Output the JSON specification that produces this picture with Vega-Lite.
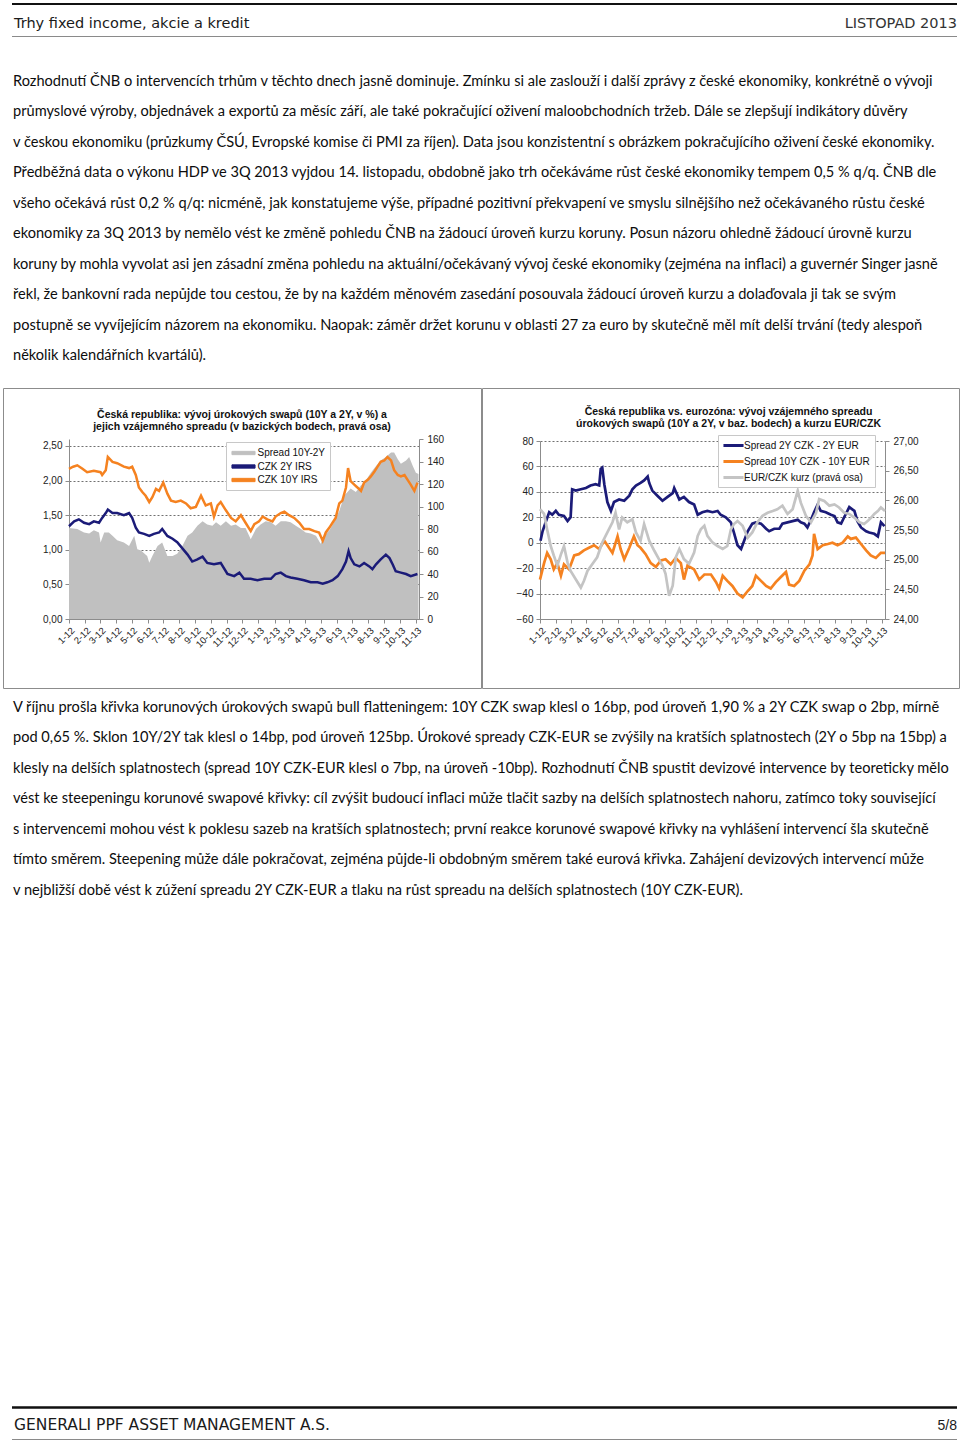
{
"$schema":"https://vega.github.io/schema/vega-lite/v6.json",
"padding":{"left":2,"top":0,"right":0,"bottom":0},
"background":"#ffffff",
"spacing":0,
"bounds":"full",
"config":{"view":{"stroke":null},"font":"Liberation Sans"},
"resolve":{"scale":{"x":"independent","y":"independent","color":"independent"},"legend":{"color":"independent"}},
"datasets":{
"irs10":[{"date":"2012-01-01","value":2.17},{"date":"2012-01-09","value":2.2},{"date":"2012-01-17","value":2.22},{"date":"2012-01-27","value":2.17},{"date":"2012-02-05","value":2.12},{"date":"2012-02-18","value":2.14},{"date":"2012-03-02","value":2.12},{"date":"2012-03-05","value":2.08},{"date":"2012-03-12","value":2.15},{"date":"2012-03-16","value":2.34},{"date":"2012-03-25","value":2.27},{"date":"2012-04-03","value":2.25},{"date":"2012-04-16","value":2.2},{"date":"2012-04-26","value":2.18},{"date":"2012-05-02","value":2.2},{"date":"2012-05-09","value":2.08},{"date":"2012-05-15","value":1.9},{"date":"2012-05-22","value":1.83},{"date":"2012-05-28","value":1.78},{"date":"2012-06-04","value":1.69},{"date":"2012-06-10","value":1.76},{"date":"2012-06-17","value":1.88},{"date":"2012-06-23","value":1.85},{"date":"2012-07-01","value":1.97},{"date":"2012-07-09","value":1.81},{"date":"2012-07-16","value":1.71},{"date":"2012-07-25","value":1.69},{"date":"2012-08-04","value":1.71},{"date":"2012-08-14","value":1.67},{"date":"2012-08-23","value":1.6},{"date":"2012-09-02","value":1.62},{"date":"2012-09-12","value":1.78},{"date":"2012-09-21","value":1.64},{"date":"2012-10-01","value":1.67},{"date":"2012-10-07","value":1.48},{"date":"2012-10-14","value":1.64},{"date":"2012-10-20","value":1.69},{"date":"2012-10-30","value":1.57},{"date":"2012-11-09","value":1.46},{"date":"2012-11-18","value":1.41},{"date":"2012-11-28","value":1.5},{"date":"2012-12-07","value":1.39},{"date":"2012-12-17","value":1.27},{"date":"2012-12-24","value":1.37},{"date":"2013-01-02","value":1.41},{"date":"2013-01-09","value":1.48},{"date":"2013-01-18","value":1.44},{"date":"2013-01-28","value":1.41},{"date":"2013-02-03","value":1.48},{"date":"2013-02-13","value":1.53},{"date":"2013-02-20","value":1.55},{"date":"2013-03-01","value":1.5},{"date":"2013-03-11","value":1.46},{"date":"2013-03-21","value":1.39},{"date":"2013-03-30","value":1.3},{"date":"2013-04-09","value":1.3},{"date":"2013-04-19","value":1.27},{"date":"2013-04-28","value":1.25},{"date":"2013-05-05","value":1.13},{"date":"2013-05-11","value":1.25},{"date":"2013-05-18","value":1.32},{"date":"2013-05-24","value":1.39},{"date":"2013-05-30","value":1.46},{"date":"2013-06-06","value":1.67},{"date":"2013-06-12","value":1.71},{"date":"2013-06-19","value":1.9},{"date":"2013-06-23","value":2.18},{"date":"2013-06-28","value":1.99},{"date":"2013-07-05","value":1.94},{"date":"2013-07-11","value":1.9},{"date":"2013-07-18","value":1.85},{"date":"2013-07-24","value":1.97},{"date":"2013-07-31","value":2.01},{"date":"2013-08-06","value":2.06},{"date":"2013-08-13","value":2.13},{"date":"2013-08-19","value":2.2},{"date":"2013-08-25","value":2.27},{"date":"2013-09-01","value":2.29},{"date":"2013-09-07","value":2.34},{"date":"2013-09-14","value":2.29},{"date":"2013-09-20","value":2.15},{"date":"2013-09-27","value":2.08},{"date":"2013-10-03","value":2.06},{"date":"2013-10-10","value":2.08},{"date":"2013-10-16","value":2.01},{"date":"2013-10-22","value":1.94},{"date":"2013-10-29","value":1.85},{"date":"2013-11-04","value":1.97}],
"irs2":[{"date":"2012-01-01","value":1.34},{"date":"2012-01-11","value":1.41},{"date":"2012-01-20","value":1.44},{"date":"2012-01-30","value":1.39},{"date":"2012-02-09","value":1.37},{"date":"2012-02-18","value":1.41},{"date":"2012-02-28","value":1.39},{"date":"2012-03-05","value":1.46},{"date":"2012-03-12","value":1.53},{"date":"2012-03-16","value":1.58},{"date":"2012-03-25","value":1.53},{"date":"2012-04-03","value":1.53},{"date":"2012-04-16","value":1.5},{"date":"2012-04-26","value":1.53},{"date":"2012-05-02","value":1.46},{"date":"2012-05-09","value":1.32},{"date":"2012-05-15","value":1.25},{"date":"2012-05-25","value":1.23},{"date":"2012-06-04","value":1.2},{"date":"2012-06-13","value":1.23},{"date":"2012-06-23","value":1.25},{"date":"2012-06-29","value":1.3},{"date":"2012-07-09","value":1.2},{"date":"2012-07-19","value":1.16},{"date":"2012-07-28","value":1.11},{"date":"2012-08-07","value":1.02},{"date":"2012-08-17","value":0.93},{"date":"2012-08-26","value":0.83},{"date":"2012-09-05","value":0.86},{"date":"2012-09-15","value":0.9},{"date":"2012-09-24","value":0.81},{"date":"2012-10-07","value":0.79},{"date":"2012-10-20","value":0.81},{"date":"2012-11-02","value":0.65},{"date":"2012-11-15","value":0.62},{"date":"2012-11-25","value":0.67},{"date":"2012-12-04","value":0.58},{"date":"2012-12-17","value":0.58},{"date":"2012-12-30","value":0.56},{"date":"2013-01-12","value":0.58},{"date":"2013-01-25","value":0.58},{"date":"2013-02-03","value":0.65},{"date":"2013-02-13","value":0.67},{"date":"2013-02-23","value":0.62},{"date":"2013-03-04","value":0.6},{"date":"2013-03-17","value":0.58},{"date":"2013-03-30","value":0.56},{"date":"2013-04-12","value":0.53},{"date":"2013-04-25","value":0.53},{"date":"2013-05-05","value":0.51},{"date":"2013-05-14","value":0.53},{"date":"2013-05-24","value":0.56},{"date":"2013-06-03","value":0.62},{"date":"2013-06-12","value":0.72},{"date":"2013-06-19","value":0.83},{"date":"2013-06-24","value":0.98},{"date":"2013-06-28","value":0.88},{"date":"2013-07-05","value":0.79},{"date":"2013-07-15","value":0.76},{"date":"2013-07-24","value":0.81},{"date":"2013-08-03","value":0.76},{"date":"2013-08-09","value":0.72},{"date":"2013-08-16","value":0.79},{"date":"2013-08-25","value":0.86},{"date":"2013-09-04","value":0.93},{"date":"2013-09-11","value":0.88},{"date":"2013-09-17","value":0.79},{"date":"2013-09-23","value":0.69},{"date":"2013-10-03","value":0.67},{"date":"2013-10-13","value":0.65},{"date":"2013-10-22","value":0.62},{"date":"2013-11-04","value":0.65}],
"spread":[{"date":"2012-01-01","value":81},{"date":"2012-01-17","value":80},{"date":"2012-01-30","value":77},{"date":"2012-02-09","value":76},{"date":"2012-02-18","value":79},{"date":"2012-02-28","value":77},{"date":"2012-03-02","value":68},{"date":"2012-03-09","value":77},{"date":"2012-03-18","value":77},{"date":"2012-03-25","value":74},{"date":"2012-04-03","value":70},{"date":"2012-04-16","value":68},{"date":"2012-04-26","value":65},{"date":"2012-05-06","value":74},{"date":"2012-05-12","value":62},{"date":"2012-05-19","value":61},{"date":"2012-05-31","value":56},{"date":"2012-06-04","value":50},{"date":"2012-06-10","value":56},{"date":"2012-06-20","value":65},{"date":"2012-06-29","value":68},{"date":"2012-07-09","value":56},{"date":"2012-07-19","value":56},{"date":"2012-07-28","value":58},{"date":"2012-08-07","value":65},{"date":"2012-08-17","value":74},{"date":"2012-08-26","value":77},{"date":"2012-09-05","value":83},{"date":"2012-09-15","value":87},{"date":"2012-09-24","value":84},{"date":"2012-10-04","value":83},{"date":"2012-10-11","value":86},{"date":"2012-10-20","value":83},{"date":"2012-10-30","value":87},{"date":"2012-11-09","value":83},{"date":"2012-11-18","value":84},{"date":"2012-11-28","value":81},{"date":"2012-12-07","value":81},{"date":"2012-12-17","value":71},{"date":"2012-12-27","value":80},{"date":"2013-01-05","value":84},{"date":"2013-01-15","value":87},{"date":"2013-01-25","value":86},{"date":"2013-02-03","value":83},{"date":"2013-02-13","value":87},{"date":"2013-02-23","value":87},{"date":"2013-03-04","value":86},{"date":"2013-03-14","value":83},{"date":"2013-03-24","value":80},{"date":"2013-04-02","value":77},{"date":"2013-04-12","value":76},{"date":"2013-04-22","value":74},{"date":"2013-05-01","value":67},{"date":"2013-05-08","value":74},{"date":"2013-05-18","value":79},{"date":"2013-05-27","value":86},{"date":"2013-06-06","value":96},{"date":"2013-06-16","value":110},{"date":"2013-06-22","value":113},{"date":"2013-06-28","value":116},{"date":"2013-07-08","value":113},{"date":"2013-07-18","value":119},{"date":"2013-07-27","value":123},{"date":"2013-08-06","value":130},{"date":"2013-08-16","value":136},{"date":"2013-08-25","value":141},{"date":"2013-09-04","value":144},{"date":"2013-09-14","value":148},{"date":"2013-09-20","value":148},{"date":"2013-09-27","value":142},{"date":"2013-10-03","value":138},{"date":"2013-10-13","value":141},{"date":"2013-10-19","value":144},{"date":"2013-10-26","value":136},{"date":"2013-11-01","value":130},{"date":"2013-11-06","value":129}],
"s2":[{"date":"2012-01-02","value":1.5},{"date":"2012-01-06","value":9},{"date":"2012-01-12","value":16},{"date":"2012-01-19","value":24},{"date":"2012-01-25","value":22},{"date":"2012-02-01","value":25},{"date":"2012-02-07","value":22},{"date":"2012-02-17","value":21},{"date":"2012-02-24","value":17},{"date":"2012-03-01","value":20},{"date":"2012-03-04","value":42},{"date":"2012-03-11","value":41},{"date":"2012-03-21","value":42},{"date":"2012-03-31","value":43},{"date":"2012-04-09","value":45},{"date":"2012-04-19","value":46},{"date":"2012-04-26","value":45},{"date":"2012-04-29","value":58},{"date":"2012-05-02","value":59},{"date":"2012-05-06","value":46},{"date":"2012-05-12","value":32},{"date":"2012-05-19","value":25},{"date":"2012-05-25","value":32},{"date":"2012-06-04","value":34},{"date":"2012-06-14","value":33},{"date":"2012-06-24","value":37},{"date":"2012-06-30","value":42},{"date":"2012-07-07","value":45},{"date":"2012-07-16","value":47},{"date":"2012-07-23","value":49},{"date":"2012-07-30","value":52},{"date":"2012-08-02","value":47},{"date":"2012-08-08","value":41},{"date":"2012-08-18","value":37},{"date":"2012-08-28","value":33},{"date":"2012-09-07","value":36},{"date":"2012-09-17","value":39},{"date":"2012-09-20","value":43},{"date":"2012-09-30","value":34},{"date":"2012-10-09","value":36},{"date":"2012-10-19","value":32},{"date":"2012-10-29","value":30},{"date":"2012-11-05","value":22},{"date":"2012-11-14","value":24},{"date":"2012-11-24","value":25},{"date":"2012-12-04","value":24},{"date":"2012-12-14","value":25},{"date":"2012-12-20","value":22},{"date":"2012-12-30","value":20},{"date":"2013-01-09","value":16},{"date":"2013-01-15","value":8},{"date":"2013-01-22","value":-2},{"date":"2013-01-29","value":-5},{"date":"2013-02-04","value":1.5},{"date":"2013-02-11","value":9},{"date":"2013-02-20","value":15},{"date":"2013-02-27","value":16},{"date":"2013-03-09","value":15},{"date":"2013-03-19","value":11},{"date":"2013-03-25","value":9},{"date":"2013-04-04","value":11},{"date":"2013-04-14","value":11},{"date":"2013-04-20","value":15},{"date":"2013-04-30","value":16},{"date":"2013-05-10","value":17},{"date":"2013-05-20","value":18},{"date":"2013-05-26","value":16},{"date":"2013-06-02","value":15},{"date":"2013-06-08","value":12},{"date":"2013-06-15","value":18},{"date":"2013-06-21","value":24},{"date":"2013-06-28","value":30},{"date":"2013-07-04","value":25},{"date":"2013-07-14","value":24},{"date":"2013-07-24","value":22},{"date":"2013-07-31","value":21},{"date":"2013-08-06","value":16},{"date":"2013-08-13","value":15},{"date":"2013-08-19","value":20},{"date":"2013-08-29","value":28},{"date":"2013-09-08","value":25},{"date":"2013-09-14","value":17},{"date":"2013-09-21","value":12},{"date":"2013-10-01","value":9},{"date":"2013-10-07","value":8},{"date":"2013-10-17","value":7},{"date":"2013-10-24","value":5},{"date":"2013-10-30","value":16},{"date":"2013-11-06","value":13}],
"s10":[{"date":"2012-01-01","value":-29},{"date":"2012-01-09","value":-16},{"date":"2012-01-15","value":-8},{"date":"2012-01-22","value":-13},{"date":"2012-01-28","value":-21},{"date":"2012-02-04","value":-16},{"date":"2012-02-11","value":-26},{"date":"2012-02-17","value":-17},{"date":"2012-02-27","value":-21},{"date":"2012-03-08","value":-10},{"date":"2012-03-17","value":-9},{"date":"2012-03-27","value":-6},{"date":"2012-04-06","value":-4},{"date":"2012-04-16","value":-2},{"date":"2012-04-26","value":-5},{"date":"2012-05-06","value":1.5},{"date":"2012-05-12","value":-2},{"date":"2012-05-22","value":-8},{"date":"2012-06-01","value":5},{"date":"2012-06-07","value":-5},{"date":"2012-06-14","value":-13},{"date":"2012-06-24","value":-4},{"date":"2012-07-03","value":5},{"date":"2012-07-10","value":-2},{"date":"2012-07-16","value":-4},{"date":"2012-07-26","value":-9},{"date":"2012-08-05","value":-16},{"date":"2012-08-15","value":-19},{"date":"2012-08-25","value":-14},{"date":"2012-09-03","value":-13},{"date":"2012-09-13","value":-17},{"date":"2012-09-23","value":-12},{"date":"2012-10-03","value":-16},{"date":"2012-10-09","value":-29},{"date":"2012-10-16","value":-18},{"date":"2012-10-29","value":-21},{"date":"2012-11-08","value":-29},{"date":"2012-11-18","value":-25},{"date":"2012-12-01","value":-25},{"date":"2012-12-11","value":-31},{"date":"2012-12-17","value":-36},{"date":"2012-12-24","value":-26},{"date":"2013-01-02","value":-30},{"date":"2013-01-12","value":-34},{"date":"2013-01-22","value":-40},{"date":"2013-02-01","value":-43},{"date":"2013-02-11","value":-38},{"date":"2013-02-20","value":-34},{"date":"2013-02-27","value":-26},{"date":"2013-03-09","value":-30},{"date":"2013-03-19","value":-34},{"date":"2013-03-28","value":-36},{"date":"2013-04-07","value":-31},{"date":"2013-04-17","value":-27},{"date":"2013-04-27","value":-23},{"date":"2013-05-03","value":-33},{"date":"2013-05-13","value":-34},{"date":"2013-05-23","value":-30},{"date":"2013-06-02","value":-22},{"date":"2013-06-12","value":-17},{"date":"2013-06-18","value":-10},{"date":"2013-06-21","value":7},{"date":"2013-06-28","value":-5},{"date":"2013-07-08","value":-2},{"date":"2013-07-18","value":-1},{"date":"2013-07-27","value":0},{"date":"2013-08-06","value":-2},{"date":"2013-08-16","value":0},{"date":"2013-08-26","value":5},{"date":"2013-09-01","value":3},{"date":"2013-09-11","value":4},{"date":"2013-09-21","value":-1},{"date":"2013-10-01","value":-6},{"date":"2013-10-10","value":-10},{"date":"2013-10-20","value":-12},{"date":"2013-10-30","value":-8},{"date":"2013-11-07","value":-8}],
"fx":[{"date":"2012-01-01","value":25.85},{"date":"2012-01-09","value":25.77},{"date":"2012-01-15","value":25.51},{"date":"2012-01-22","value":25.23},{"date":"2012-01-28","value":25.07},{"date":"2012-02-04","value":24.9},{"date":"2012-02-11","value":25.09},{"date":"2012-02-17","value":25.23},{"date":"2012-02-24","value":24.95},{"date":"2012-03-01","value":24.81},{"date":"2012-03-11","value":24.67},{"date":"2012-03-21","value":24.53},{"date":"2012-03-27","value":24.64},{"date":"2012-04-03","value":24.81},{"date":"2012-04-13","value":24.93},{"date":"2012-04-22","value":25.04},{"date":"2012-05-02","value":25.29},{"date":"2012-05-12","value":25.46},{"date":"2012-05-22","value":25.63},{"date":"2012-05-28","value":25.79},{"date":"2012-06-04","value":25.51},{"date":"2012-06-10","value":25.71},{"date":"2012-06-20","value":25.63},{"date":"2012-06-30","value":25.68},{"date":"2012-07-07","value":25.46},{"date":"2012-07-16","value":25.32},{"date":"2012-07-23","value":25.6},{"date":"2012-08-02","value":25.32},{"date":"2012-08-12","value":25.15},{"date":"2012-08-21","value":25.01},{"date":"2012-08-28","value":24.9},{"date":"2012-09-03","value":24.76},{"date":"2012-09-10","value":24.39},{"date":"2012-09-17","value":24.56},{"date":"2012-09-23","value":25.04},{"date":"2012-09-30","value":25.18},{"date":"2012-10-09","value":25.01},{"date":"2012-10-19","value":24.93},{"date":"2012-10-29","value":25.12},{"date":"2012-11-05","value":25.4},{"date":"2012-11-11","value":25.51},{"date":"2012-11-18","value":25.57},{"date":"2012-11-24","value":25.4},{"date":"2012-12-04","value":25.29},{"date":"2012-12-14","value":25.23},{"date":"2012-12-24","value":25.18},{"date":"2013-01-02","value":25.23},{"date":"2013-01-09","value":25.51},{"date":"2013-01-15","value":25.6},{"date":"2013-01-22","value":25.65},{"date":"2013-02-01","value":25.57},{"date":"2013-02-11","value":25.37},{"date":"2013-02-20","value":25.46},{"date":"2013-03-02","value":25.63},{"date":"2013-03-12","value":25.74},{"date":"2013-03-22","value":25.79},{"date":"2013-04-01","value":25.82},{"date":"2013-04-10","value":25.85},{"date":"2013-04-20","value":25.91},{"date":"2013-04-30","value":25.77},{"date":"2013-05-10","value":25.85},{"date":"2013-05-20","value":26.16},{"date":"2013-05-26","value":25.96},{"date":"2013-06-05","value":25.74},{"date":"2013-06-15","value":25.63},{"date":"2013-06-25","value":25.79},{"date":"2013-07-01","value":26.02},{"date":"2013-07-11","value":25.99},{"date":"2013-07-21","value":25.91},{"date":"2013-07-31","value":25.93},{"date":"2013-08-09","value":25.88},{"date":"2013-08-19","value":25.79},{"date":"2013-08-29","value":25.77},{"date":"2013-09-08","value":25.71},{"date":"2013-09-18","value":25.63},{"date":"2013-09-27","value":25.6},{"date":"2013-10-04","value":25.65},{"date":"2013-10-11","value":25.71},{"date":"2013-10-17","value":25.77},{"date":"2013-10-24","value":25.82},{"date":"2013-10-30","value":25.88},{"date":"2013-11-07","value":25.82}]
},
"vconcat":[
{
"width":958,"height":40,
"data":{"values":[{"text":"Trhy fixed income, akcie a kredit","side":"left"},{"text":"LISTOPAD 2013","side":"right"}]},
"encoding":{
"x":{"datum":0,"type":"quantitative","scale":{"domain":[0,1],"range":[9,954]},"axis":null},
"y":{"datum":27.5,"type":"quantitative","scale":{"domain":[0,40],"range":[0,40]},"axis":null}
},
"layer":[
{"mark":{"type":"rule","color":"#111111","strokeWidth":2.2},"encoding":{"x2":{"datum":1},"y":{"datum":4,"type":"quantitative"}}},
{"mark":{"type":"rule","color":"#8a8a8a","strokeWidth":1.2},"encoding":{"x2":{"datum":1},"y":{"datum":36.5,"type":"quantitative"}}},
{"transform":[{"filter":"datum.side === 'left'"}],"mark":{"type":"text","align":"left","baseline":"alphabetic","font":"DejaVu Sans","fontSize":14.5,"color":"#1a1a1a","dx":2},"encoding":{"text":{"field":"text"}}},
{"transform":[{"filter":"datum.side === 'right'"}],"mark":{"type":"text","align":"right","baseline":"alphabetic","font":"DejaVu Sans","fontSize":14.5,"color":"#333333"},"encoding":{"x":{"datum":1,"type":"quantitative"},"text":{"field":"text"}}}
]
},
{
"width":958,"height":347,
"data":{"values":[
{"line":1,"text":"Rozhodnutí ČNB o intervencích trhům v těchto dnech jasně dominuje. Zmínku si ale zaslouží i další zprávy z české ekonomiky, konkrétně o vývoji"},
{"line":2,"text":"průmyslové výroby, objednávek a exportů za měsíc září, ale také pokračující oživení maloobchodních tržeb. Dále se zlepšují indikátory důvěry"},
{"line":3,"text":"v českou ekonomiku (průzkumy ČSÚ, Evropské komise či PMI za říjen). Data jsou konzistentní s obrázkem pokračujícího oživení české ekonomiky."},
{"line":4,"text":"Předběžná data o výkonu HDP ve 3Q 2013 vyjdou 14. listopadu, obdobně jako trh očekáváme růst české ekonomiky tempem 0,5 % q/q. ČNB dle"},
{"line":5,"text":"všeho očekává růst 0,2 % q/q: nicméně, jak konstatujeme výše, případné pozitivní překvapení ve smyslu silnějšího než očekávaného růstu české"},
{"line":6,"text":"ekonomiky za 3Q 2013 by nemělo vést ke změně pohledu ČNB na žádoucí úroveň kurzu koruny. Posun názoru ohledně žádoucí úrovně kurzu"},
{"line":7,"text":"koruny by mohla vyvolat asi jen zásadní změna pohledu na aktuální/očekávaný vývoj české ekonomiky (zejména na inflaci) a guvernér Singer jasně"},
{"line":8,"text":"řekl, že bankovní rada nepůjde tou cestou, že by na každém měnovém zasedání posouvala žádoucí úroveň kurzu a dolaďovala ji tak se svým"},
{"line":9,"text":"postupně se vyvíjejícím názorem na ekonomiku. Naopak: záměr držet korunu v oblasti 27 za euro by skutečně měl mít delší trvání (tedy alespoň"},
{"line":10,"text":"několik kalendářních kvartálů)."}
]},
"mark":{"type":"text","align":"left","baseline":"alphabetic","font":"Lato","fontSize":14.6,"color":"#0d0d0d"},
"encoding":{
"x":{"datum":0,"type":"quantitative","scale":{"domain":[0,1],"range":[10,955]},"axis":null},
"y":{"field":"line","type":"quantitative","scale":{"domain":[1,10],"range":[46,320]},"axis":null},
"text":{"field":"text"}
}
},
{
"hconcat":[
{
"width":478,"height":300,
"view":{"stroke":"#8c8c8c","strokeWidth":1,"fill":"#ffffff"},
"title":{"text":["Česká republika: vývoj úrokových swapů (10Y a 2Y, v %) a","jejich  vzájemného spreadu (v bazických bodech, pravá osa)"],"anchor":"middle","frame":"group","offset":-44,"fontSize":10.5,"fontWeight":"bold","font":"Liberation Sans","color":"#111111","lineHeight":12},
"encoding":{
"x":{"field":"date","type":"temporal","scale":{"domain":[{"year":2012,"month":1,"date":1},{"year":2013,"month":11,"date":7}],"range":[66,416]},
"axis":{"orient":"bottom","offset":-69,"format":"%-m-%y","tickCount":{"interval":"month","step":1},"labelAngle":-45,"labelFontSize":9.5,"labelFont":"Liberation Sans","labelColor":"#222222","domainColor":"#8c8c8c","tickColor":"#8c8c8c","tickSize":4,"grid":false,"title":null,"labelOverlap":false,"labelFlush":false,"labelBound":false,"labelPadding":2}}
},
"layer":[
{"data":{"name":"spread"},"mark":{"type":"area","opacity":1},
"encoding":{
"y":{"field":"value","type":"quantitative","scale":{"domain":[0,160],"range":[231,51]},"axis":{"orient":"right","offset":-62,"values":[0,20,40,60,80,100,120,140,160],"format":"d","grid":false,"title":null,"labelFontSize":10,"labelFont":"Liberation Sans","labelColor":"#222222","domainColor":"#8c8c8c","tickColor":"#8c8c8c","tickSize":4,"labelPadding":4,"labelOverlap":false,"labelBound":false,"labelFlush":false}},
"color":{"datum":"Spread 10Y-2Y","type":"nominal","scale":{"domain":["Spread 10Y-2Y","CZK 2Y IRS","CZK 10Y IRS"],"range":["#c0c0c0","#1b1b78","#f58220"]},
"legend":{"orient":"none","legendX":223,"legendY":54,"title":null,"symbolType":"M-2.1,-0.3L2.1,-0.3L2.1,0.3L-2.1,0.3Z","symbolSize":121,"symbolStrokeWidth":1,"symbolOffset":6.5,"labelOffset":8,"labelFont":"Liberation Sans","labelFontSize":10,"labelColor":"#111111","padding":5,"strokeColor":"#c8c8c8","fillColor":"#ffffff","rowPadding":2.5}}
}},
{"layer":[
{"data":{"name":"irs2"},"mark":{"type":"line","strokeWidth":2.5},
"encoding":{
"y":{"field":"value","type":"quantitative","scale":{"domain":[0,2.5],"range":[231,51]},"axis":{"orient":"left","offset":-66,"values":[0,0.5,1,1.5,2,2.5],"labelExpr":"replace(format(datum.value, '.2f'), '.', ',')","grid":true,"gridColor":"#707070","gridDash":[2,2],"gridWidth":1,"zindex":0,"title":null,"labelFontSize":10,"labelFont":"Liberation Sans","labelColor":"#222222","domainColor":"#8c8c8c","tickColor":"#8c8c8c","tickSize":4,"labelPadding":3,"labelOverlap":false,"labelBound":false,"labelFlush":false}},
"color":{"datum":"CZK 2Y IRS","type":"nominal"}}},
{"data":{"name":"irs10"},"mark":{"type":"line","strokeWidth":2.5},
"encoding":{
"y":{"field":"value","type":"quantitative"},
"color":{"datum":"CZK 10Y IRS","type":"nominal"}}}
]}
],
"resolve":{"scale":{"y":"independent"},"axis":{"y":"independent"}}
},
{
"width":477,"height":300,
"view":{"stroke":"#8c8c8c","strokeWidth":1,"fill":"#ffffff"},
"title":{"text":["Česká republika vs. eurozóna: vývoj vzájemného spreadu","úrokových swapů (10Y a 2Y, v baz. bodech) a kurzu EUR/CZK"],"anchor":"middle","frame":"group","offset":-41,"dx":8,"fontSize":10.5,"fontWeight":"bold","font":"Liberation Sans","color":"#111111","lineHeight":12},
"encoding":{
"x":{"field":"date","type":"temporal","scale":{"domain":[{"year":2012,"month":1,"date":1},{"year":2013,"month":11,"date":7}],"range":[58,403]},
"axis":{"orient":"bottom","offset":-69,"format":"%-m-%y","tickCount":{"interval":"month","step":1},"labelAngle":-45,"labelFontSize":9.5,"labelFont":"Liberation Sans","labelColor":"#222222","domainColor":"#8c8c8c","tickColor":"#8c8c8c","tickSize":4,"grid":false,"title":null,"labelOverlap":false,"labelFlush":false,"labelBound":false,"labelPadding":2}}
},
"layer":[
{"layer":[
{"data":{"name":"s2"},"mark":{"type":"line","strokeWidth":2.7},
"encoding":{
"y":{"field":"value","type":"quantitative","scale":{"domain":[-60,80],"range":[231,53]},"axis":{"orient":"left","offset":-58,"values":[-60,-40,-20,0,20,40,60,80],"format":"d","grid":true,"gridColor":"#707070","gridDash":[2,2],"gridWidth":1,"zindex":0,"title":null,"labelFontSize":10,"labelFont":"Liberation Sans","labelColor":"#222222","domainColor":"#8c8c8c","tickColor":"#8c8c8c","tickSize":4,"labelPadding":3,"labelOverlap":false,"labelBound":false,"labelFlush":false}},
"color":{"datum":"Spread 2Y CZK - 2Y EUR","type":"nominal","scale":{"domain":["Spread 2Y CZK - 2Y EUR","Spread 10Y CZK - 10Y EUR","EUR/CZK kurz (pravá osa)"],"range":["#1b1b78","#f58220","#c4c4c4"]},
"legend":{"orient":"none","legendX":236,"legendY":47,"title":null,"symbolType":"M-1.75,-0.04L1.75,-0.04L1.75,0.04L-1.75,0.04Z","symbolSize":100,"symbolStrokeWidth":2.6,"symbolOffset":5,"labelOffset":4,"labelFont":"Liberation Sans","labelFontSize":10,"labelColor":"#111111","padding":4,"strokeColor":"#c8c8c8","fillColor":"#ffffff","rowPadding":4}}}},
{"data":{"name":"s10"},"mark":{"type":"line","strokeWidth":2.7},
"encoding":{
"y":{"field":"value","type":"quantitative"},
"color":{"datum":"Spread 10Y CZK - 10Y EUR","type":"nominal"}}}
]},
{"data":{"name":"fx"},"mark":{"type":"line","strokeWidth":2.7},
"encoding":{
"y":{"field":"value","type":"quantitative","scale":{"domain":[24,27],"range":[231,53]},"axis":{"orient":"right","offset":-74,"values":[24,24.5,25,25.5,26,26.5,27],"labelExpr":"replace(format(datum.value, '.2f'), '.', ',')","grid":false,"title":null,"labelFontSize":10,"labelFont":"Liberation Sans","labelColor":"#222222","domainColor":"#8c8c8c","tickColor":"#8c8c8c","tickSize":4,"labelPadding":4,"labelOverlap":false,"labelBound":false,"labelFlush":false}},
"color":{"datum":"EUR/CZK kurz (pravá osa)","type":"nominal"}}}
],
"resolve":{"scale":{"y":"independent"},"axis":{"y":"independent"}}
}
],
"spacing":1,
"bounds":"flush",
"resolve":{"scale":{"x":"independent","y":"independent","color":"independent"},"legend":{"color":"independent"}}
},
{
"width":958,"height":713,
"data":{"values":[
{"line":1,"text":"V říjnu prošla křivka korunových úrokových swapů bull flatteningem: 10Y CZK swap klesl o 16bp, pod úroveň 1,90 % a 2Y CZK swap o 2bp, mírně"},
{"line":2,"text":"pod 0,65 %. Sklon 10Y/2Y tak klesl o 14bp, pod úroveň 125bp. Úrokové spready CZK-EUR se zvýšily na kratších splatnostech (2Y o 5bp na 15bp) a"},
{"line":3,"text":"klesly na delších splatnostech (spread 10Y CZK-EUR klesl o 7bp, na úroveň -10bp). Rozhodnutí ČNB spustit devizové intervence by teoreticky mělo"},
{"line":4,"text":"vést ke steepeningu korunové swapové křivky: cíl zvýšit budoucí inflaci může tlačit sazby na delších splatnostech nahoru, zatímco toky související"},
{"line":5,"text":"s intervencemi mohou vést k poklesu sazeb na kratších splatnostech; první reakce korunové swapové křivky na vyhlášení intervencí šla skutečně"},
{"line":6,"text":"tímto směrem. Steepening může dále pokračovat, zejména půjde-li obdobným směrem také eurová křivka. Zahájení devizových intervencí může"},
{"line":7,"text":"v nejbližší době vést k zúžení spreadu 2Y CZK-EUR a tlaku na růst spreadu na delších splatnostech (10Y CZK-EUR)."}
]},
"mark":{"type":"text","align":"left","baseline":"alphabetic","font":"Lato","fontSize":14.6,"color":"#0d0d0d"},
"encoding":{
"x":{"datum":0,"type":"quantitative","scale":{"domain":[0,1],"range":[10,955]},"axis":null},
"y":{"field":"line","type":"quantitative","scale":{"domain":[1,7],"range":[22.5,205.5]},"axis":null},
"text":{"field":"text"}
}
},
{
"width":958,"height":40,
"data":{"values":[{"text":"GENERALI PPF ASSET MANAGEMENT A.S.","side":"left"},{"text":"5/8","side":"right"}]},
"encoding":{
"x":{"datum":0,"type":"quantitative","scale":{"domain":[0,1],"range":[9,954]},"axis":null},
"y":{"datum":27.5,"type":"quantitative","scale":{"domain":[0,40],"range":[0,40]},"axis":null}
},
"layer":[
{"mark":{"type":"rule","color":"#111111","strokeWidth":2.2},"encoding":{"x2":{"datum":1},"y":{"datum":5.5,"type":"quantitative"}}},
{"mark":{"type":"rule","color":"#8a8a8a","strokeWidth":1.2},"encoding":{"x2":{"datum":1},"y":{"datum":37.5,"type":"quantitative"}}},
{"transform":[{"filter":"datum.side === 'left'"}],"mark":{"type":"text","align":"left","baseline":"alphabetic","font":"DejaVu Sans","fontSize":15.5,"color":"#1a1a1a","dx":2},"encoding":{"text":{"field":"text"}}},
{"transform":[{"filter":"datum.side === 'right'"}],"mark":{"type":"text","align":"right","baseline":"alphabetic","font":"Liberation Sans","fontSize":14,"color":"#1a1a1a"},"encoding":{"x":{"datum":1,"type":"quantitative"},"text":{"field":"text"}}}
]
}
]
}
